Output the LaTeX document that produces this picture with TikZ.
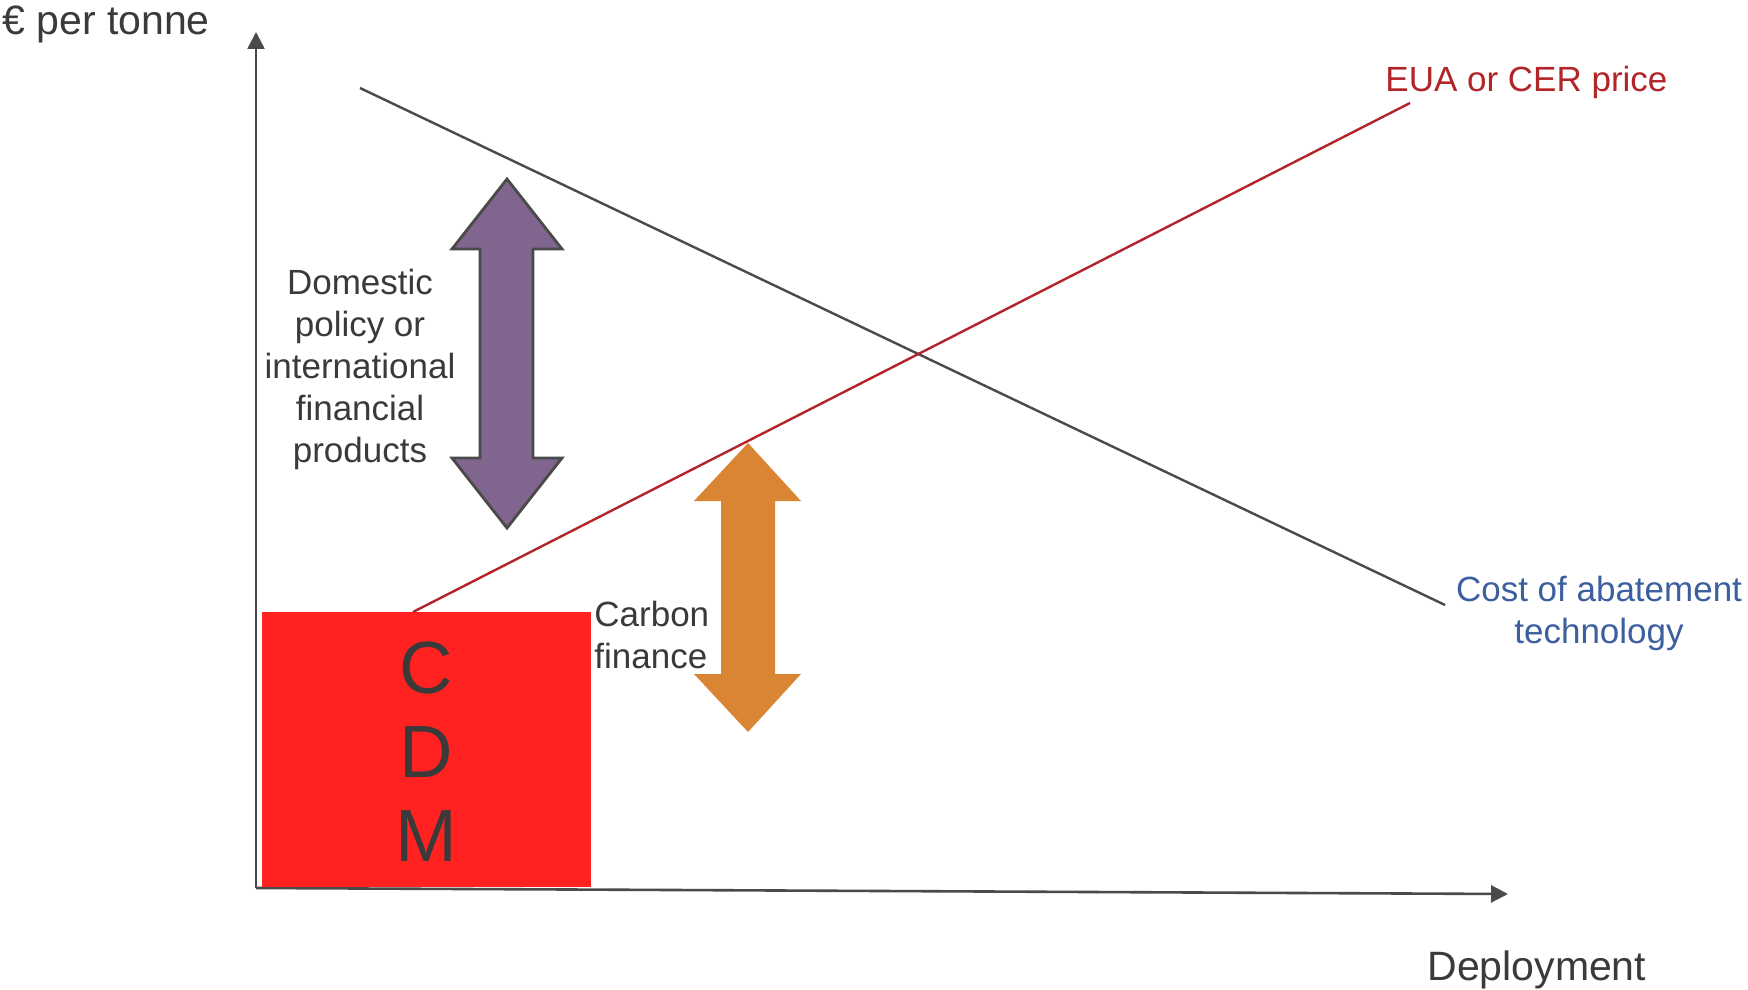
\documentclass[tikz,border=0pt]{standalone}
\usepackage{fontspec}
\setmainfont{Liberation Sans}
\usetikzlibrary{arrows.meta}
\definecolor{ink}{HTML}{3A3A3A}
\definecolor{axisgray}{HTML}{4A4A4A}
\definecolor{pricered}{HTML}{B22428}
\definecolor{costblue}{HTML}{3B5F9F}
\definecolor{cdmred}{HTML}{FF2220}
\definecolor{policypurple}{HTML}{80668E}
\definecolor{financeorange}{HTML}{D98533}
\tikzset{
  axisline/.style={draw=axisgray, line width=1.3pt, -{Triangle[width=8.5pt,length=8.5pt]}},
  costline/.style={draw=axisgray, line width=1.2pt},
  priceline/.style={draw=pricered, line width=1.2pt},
  label/.style={text=ink, inner sep=0pt, font=\fontsize{17.5}{21}\selectfont},
  biglabel/.style={text=ink, inner sep=0pt, font=\fontsize{20.5}{24}\selectfont},
  cdmbox/.style={fill=cdmred, draw=none, inner sep=0pt, text=ink,
    font=\fontsize{37}{42}\selectfont, align=center},
  policyarrow/.style={fill=policypurple, draw=axisgray, line width=1.4pt, line join=miter},
  financearrow/.style={fill=financeorange, draw=none},
}
\begin{document}
\begin{tikzpicture}[x=0.5pt, y=-0.5pt]
\useasboundingbox (0,0) rectangle (1748,989);

% axes
\coordinate (O) at (256,888);
\coordinate (ytop) at (256,32);
\coordinate (xend) at (1508,894);
\draw[axisline] (O) -- (ytop);
\draw[axisline] (O) -- (xend);

% falling cost curve and rising price curve
\coordinate (costA) at (360,88);
\coordinate (costB) at (1445,605);
\draw[costline] (costA) -- (costB);
\coordinate (priceA) at (413,612);
\coordinate (priceB) at (1410,103);
\draw[priceline] (priceA) -- (priceB);

% CDM block (multi-line text is anchored on its last baseline)
\node[cdmbox, anchor=north west, minimum width=164.5pt, minimum height=137.5pt]
  (cdm) at (262,612) {};
\node[cdmbox, fill=none, anchor=base] (cdmtext) at (426,861) {C\\D\\M};

% double arrows
\draw[policyarrow] (507,179) -- (562,249) -- (533,249) -- (533,458) -- (562,458)
  -- (507,528) -- (452,458) -- (480,458) -- (480,249) -- (452,249) -- cycle;
\fill[financearrow] (748,443) -- (801,501) -- (775,501) -- (775,674) -- (801,674)
  -- (748,732) -- (694,674) -- (721,674) -- (721,501) -- (694,501) -- cycle;

% labels
\node[biglabel, anchor=base west] (ylabel) at (2,35) {€ per tonne};
\node[biglabel, anchor=base west] (xlabel) at (1427,980) {Deployment};
\node[label, text=pricered, anchor=base west] (pricelabel) at (1385,92) {EUA or CER price};
\node[label, text=costblue, align=center, anchor=base] (costlabel) at (1599,643)
  {Cost of abatement\\technology};
\node[label, align=center, anchor=base] (policylabel) at (360,462)
  {Domestic\\policy or\\international\\financial\\products};
\node[label, align=left, anchor=base west] (financelabel) at (594,668)
  {Carbon\\finance};
\end{tikzpicture}
\end{document}
